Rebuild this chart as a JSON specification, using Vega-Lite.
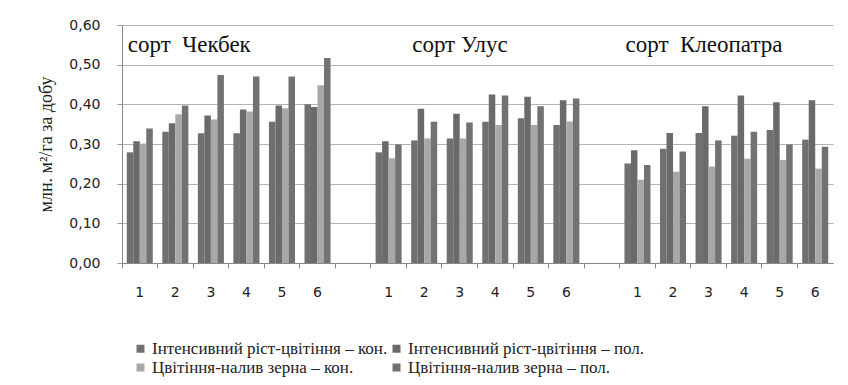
{
  "$schema": "https://vega.github.io/schema/vega-lite/v6.json",
  "width": 711,
  "height": 238,
  "autosize": {"type": "none"},
  "padding": {"left": 122, "top": 25, "right": 15, "bottom": 122},
  "background": "white",
  "config": {
    "view": {"stroke": null},
    "font": "Liberation Serif"
  },
  "datasets": {
    "bars": [
      {"slot": "a1", "series": "Інтенсивний ріст-цвітіння – кон.", "value": 0.279},
      {"slot": "a1", "series": "Інтенсивний ріст-цвітіння – пол.", "value": 0.307},
      {"slot": "a1", "series": "Цвітіння-налив зерна – кон.", "value": 0.301},
      {"slot": "a1", "series": "Цвітіння-налив зерна – пол.", "value": 0.339},
      {"slot": "a2", "series": "Інтенсивний ріст-цвітіння – кон.", "value": 0.331},
      {"slot": "a2", "series": "Інтенсивний ріст-цвітіння – пол.", "value": 0.352},
      {"slot": "a2", "series": "Цвітіння-налив зерна – кон.", "value": 0.375},
      {"slot": "a2", "series": "Цвітіння-налив зерна – пол.", "value": 0.397},
      {"slot": "a3", "series": "Інтенсивний ріст-цвітіння – кон.", "value": 0.327},
      {"slot": "a3", "series": "Інтенсивний ріст-цвітіння – пол.", "value": 0.372},
      {"slot": "a3", "series": "Цвітіння-налив зерна – кон.", "value": 0.362},
      {"slot": "a3", "series": "Цвітіння-налив зерна – пол.", "value": 0.474},
      {"slot": "a4", "series": "Інтенсивний ріст-цвітіння – кон.", "value": 0.327},
      {"slot": "a4", "series": "Інтенсивний ріст-цвітіння – пол.", "value": 0.387},
      {"slot": "a4", "series": "Цвітіння-налив зерна – кон.", "value": 0.382},
      {"slot": "a4", "series": "Цвітіння-налив зерна – пол.", "value": 0.470},
      {"slot": "a5", "series": "Інтенсивний ріст-цвітіння – кон.", "value": 0.356},
      {"slot": "a5", "series": "Інтенсивний ріст-цвітіння – пол.", "value": 0.397},
      {"slot": "a5", "series": "Цвітіння-налив зерна – кон.", "value": 0.390},
      {"slot": "a5", "series": "Цвітіння-налив зерна – пол.", "value": 0.470},
      {"slot": "a6", "series": "Інтенсивний ріст-цвітіння – кон.", "value": 0.400},
      {"slot": "a6", "series": "Інтенсивний ріст-цвітіння – пол.", "value": 0.393},
      {"slot": "a6", "series": "Цвітіння-налив зерна – кон.", "value": 0.448},
      {"slot": "a6", "series": "Цвітіння-налив зерна – пол.", "value": 0.517},
      {"slot": "b1", "series": "Інтенсивний ріст-цвітіння – кон.", "value": 0.279},
      {"slot": "b1", "series": "Інтенсивний ріст-цвітіння – пол.", "value": 0.307},
      {"slot": "b1", "series": "Цвітіння-налив зерна – кон.", "value": 0.264},
      {"slot": "b1", "series": "Цвітіння-налив зерна – пол.", "value": 0.299},
      {"slot": "b2", "series": "Інтенсивний ріст-цвітіння – кон.", "value": 0.309},
      {"slot": "b2", "series": "Інтенсивний ріст-цвітіння – пол.", "value": 0.389},
      {"slot": "b2", "series": "Цвітіння-налив зерна – кон.", "value": 0.314},
      {"slot": "b2", "series": "Цвітіння-налив зерна – пол.", "value": 0.356},
      {"slot": "b3", "series": "Інтенсивний ріст-цвітіння – кон.", "value": 0.314},
      {"slot": "b3", "series": "Інтенсивний ріст-цвітіння – пол.", "value": 0.376},
      {"slot": "b3", "series": "Цвітіння-налив зерна – кон.", "value": 0.314},
      {"slot": "b3", "series": "Цвітіння-налив зерна – пол.", "value": 0.354},
      {"slot": "b4", "series": "Інтенсивний ріст-цвітіння – кон.", "value": 0.356},
      {"slot": "b4", "series": "Інтенсивний ріст-цвітіння – пол.", "value": 0.425},
      {"slot": "b4", "series": "Цвітіння-налив зерна – кон.", "value": 0.348},
      {"slot": "b4", "series": "Цвітіння-налив зерна – пол.", "value": 0.422},
      {"slot": "b5", "series": "Інтенсивний ріст-цвітіння – кон.", "value": 0.365},
      {"slot": "b5", "series": "Інтенсивний ріст-цвітіння – пол.", "value": 0.419},
      {"slot": "b5", "series": "Цвітіння-налив зерна – кон.", "value": 0.348},
      {"slot": "b5", "series": "Цвітіння-налив зерна – пол.", "value": 0.395},
      {"slot": "b6", "series": "Інтенсивний ріст-цвітіння – кон.", "value": 0.348},
      {"slot": "b6", "series": "Інтенсивний ріст-цвітіння – пол.", "value": 0.410},
      {"slot": "b6", "series": "Цвітіння-налив зерна – кон.", "value": 0.357},
      {"slot": "b6", "series": "Цвітіння-налив зерна – пол.", "value": 0.415},
      {"slot": "c1", "series": "Інтенсивний ріст-цвітіння – кон.", "value": 0.251},
      {"slot": "c1", "series": "Інтенсивний ріст-цвітіння – пол.", "value": 0.284},
      {"slot": "c1", "series": "Цвітіння-налив зерна – кон.", "value": 0.210},
      {"slot": "c1", "series": "Цвітіння-налив зерна – пол.", "value": 0.247},
      {"slot": "c2", "series": "Інтенсивний ріст-цвітіння – кон.", "value": 0.288},
      {"slot": "c2", "series": "Інтенсивний ріст-цвітіння – пол.", "value": 0.328},
      {"slot": "c2", "series": "Цвітіння-налив зерна – кон.", "value": 0.230},
      {"slot": "c2", "series": "Цвітіння-налив зерна – пол.", "value": 0.281},
      {"slot": "c3", "series": "Інтенсивний ріст-цвітіння – кон.", "value": 0.328},
      {"slot": "c3", "series": "Інтенсивний ріст-цвітіння – пол.", "value": 0.395},
      {"slot": "c3", "series": "Цвітіння-налив зерна – кон.", "value": 0.243},
      {"slot": "c3", "series": "Цвітіння-налив зерна – пол.", "value": 0.309},
      {"slot": "c4", "series": "Інтенсивний ріст-цвітіння – кон.", "value": 0.321},
      {"slot": "c4", "series": "Інтенсивний ріст-цвітіння – пол.", "value": 0.422},
      {"slot": "c4", "series": "Цвітіння-налив зерна – кон.", "value": 0.263},
      {"slot": "c4", "series": "Цвітіння-налив зерна – пол.", "value": 0.331},
      {"slot": "c5", "series": "Інтенсивний ріст-цвітіння – кон.", "value": 0.335},
      {"slot": "c5", "series": "Інтенсивний ріст-цвітіння – пол.", "value": 0.405},
      {"slot": "c5", "series": "Цвітіння-налив зерна – кон.", "value": 0.260},
      {"slot": "c5", "series": "Цвітіння-налив зерна – пол.", "value": 0.299},
      {"slot": "c6", "series": "Інтенсивний ріст-цвітіння – кон.", "value": 0.311},
      {"slot": "c6", "series": "Інтенсивний ріст-цвітіння – пол.", "value": 0.410},
      {"slot": "c6", "series": "Цвітіння-налив зерна – кон.", "value": 0.238},
      {"slot": "c6", "series": "Цвітіння-налив зерна – пол.", "value": 0.293}
    ],
    "labels": [
      {"slot": "a1", "label": "сорт\u00a0 Чекбек", "value": 0.55},
      {"slot": "b2", "label": "сорт Улус", "value": 0.55},
      {"slot": "c1", "label": "сорт\u00a0 Клеопатра", "value": 0.55}
    ]
  },
  "encoding": {
    "x": {
      "field": "slot",
      "type": "nominal",
      "scale": {
        "domain": ["a1","a2","a3","a4","a5","a6","g1","b1","b2","b3","b4","b5","b6","g2","c1","c2","c3","c4","c5","c6"],
        "paddingInner": 0,
        "paddingOuter": 0
      },
      "axis": {
        "title": null,
        "bandPosition": 0,
        "labelExpr": "indexof(datum.label,'g')==0 ? '' : substring(datum.label,1)",
        "labelAngle": 0,
        "labelFont": "DejaVu Sans",
        "labelFontSize": 14,
        "labelColor": "#222",
        "labelPadding": 17,
        "tickSize": 5,
        "tickColor": "#888",
        "domainColor": "#888",
        "grid": false,
        "labelBound": false
      }
    },
    "y": {
      "field": "value",
      "type": "quantitative",
      "scale": {"domain": [0, 0.6], "nice": false},
      "axis": {
        "title": "млн. м²/га за добу",
        "titleFont": "serif",
        "titleFontSize": 18,
        "titleFontWeight": "normal",
        "titleColor": "#222",
        "titleX": -76,
        "titleY": 119,
        "titleAngle": -90,
        "titleAlign": "center",
        "titleBaseline": "middle",
        "values": [0, 0.1, 0.2, 0.3, 0.4, 0.5, 0.6],
        "labelOverlap": false,
        "labelExpr": "replace(format(datum.value, '.2f'), '.', ',')",
        "labelFont": "DejaVu Sans",
        "labelFontSize": 14,
        "labelColor": "#222",
        "labelPadding": 17,
        "tickSize": 5,
        "tickColor": "#999",
        "domainColor": "#888",
        "gridColor": "#b4b4b4"
      }
    }
  },
  "layer": [
    {
      "data": {"name": "bars"},
      "mark": {"type": "bar"},
      "encoding": {
        "xOffset": {
          "field": "series",
          "type": "nominal",
          "scale": {"paddingInner": 0, "paddingOuter": 0.73}
        },
        "color": {
          "field": "series",
          "type": "nominal",
          "scale": {"range": ["#707070", "#6a6a6a", "#a8a8a8", "#727272"]},
          "legend": {
            "title": null,
            "orient": "none",
            "legendX": 10,
            "legendY": 315,
            "direction": "horizontal",
            "columns": 2,
            "symbolType": "square",
            "symbolSize": 64,
            "symbolStrokeWidth": 0,
            "labelFont": "serif",
            "labelFontSize": 17,
            "labelColor": "#222",
            "labelLimit": 400,
            "labelOffset": 3,
            "columnPadding": 0,
            "rowPadding": 1
          }
        }
      }
    },
    {
      "data": {"name": "labels"},
      "mark": {"type": "text", "align": "left", "baseline": "middle", "dx": -12, "font": "Liberation Serif", "fontSize": 23, "color": "#111"},
      "encoding": {
        "text": {"field": "label"}
      }
    }
  ]
}
